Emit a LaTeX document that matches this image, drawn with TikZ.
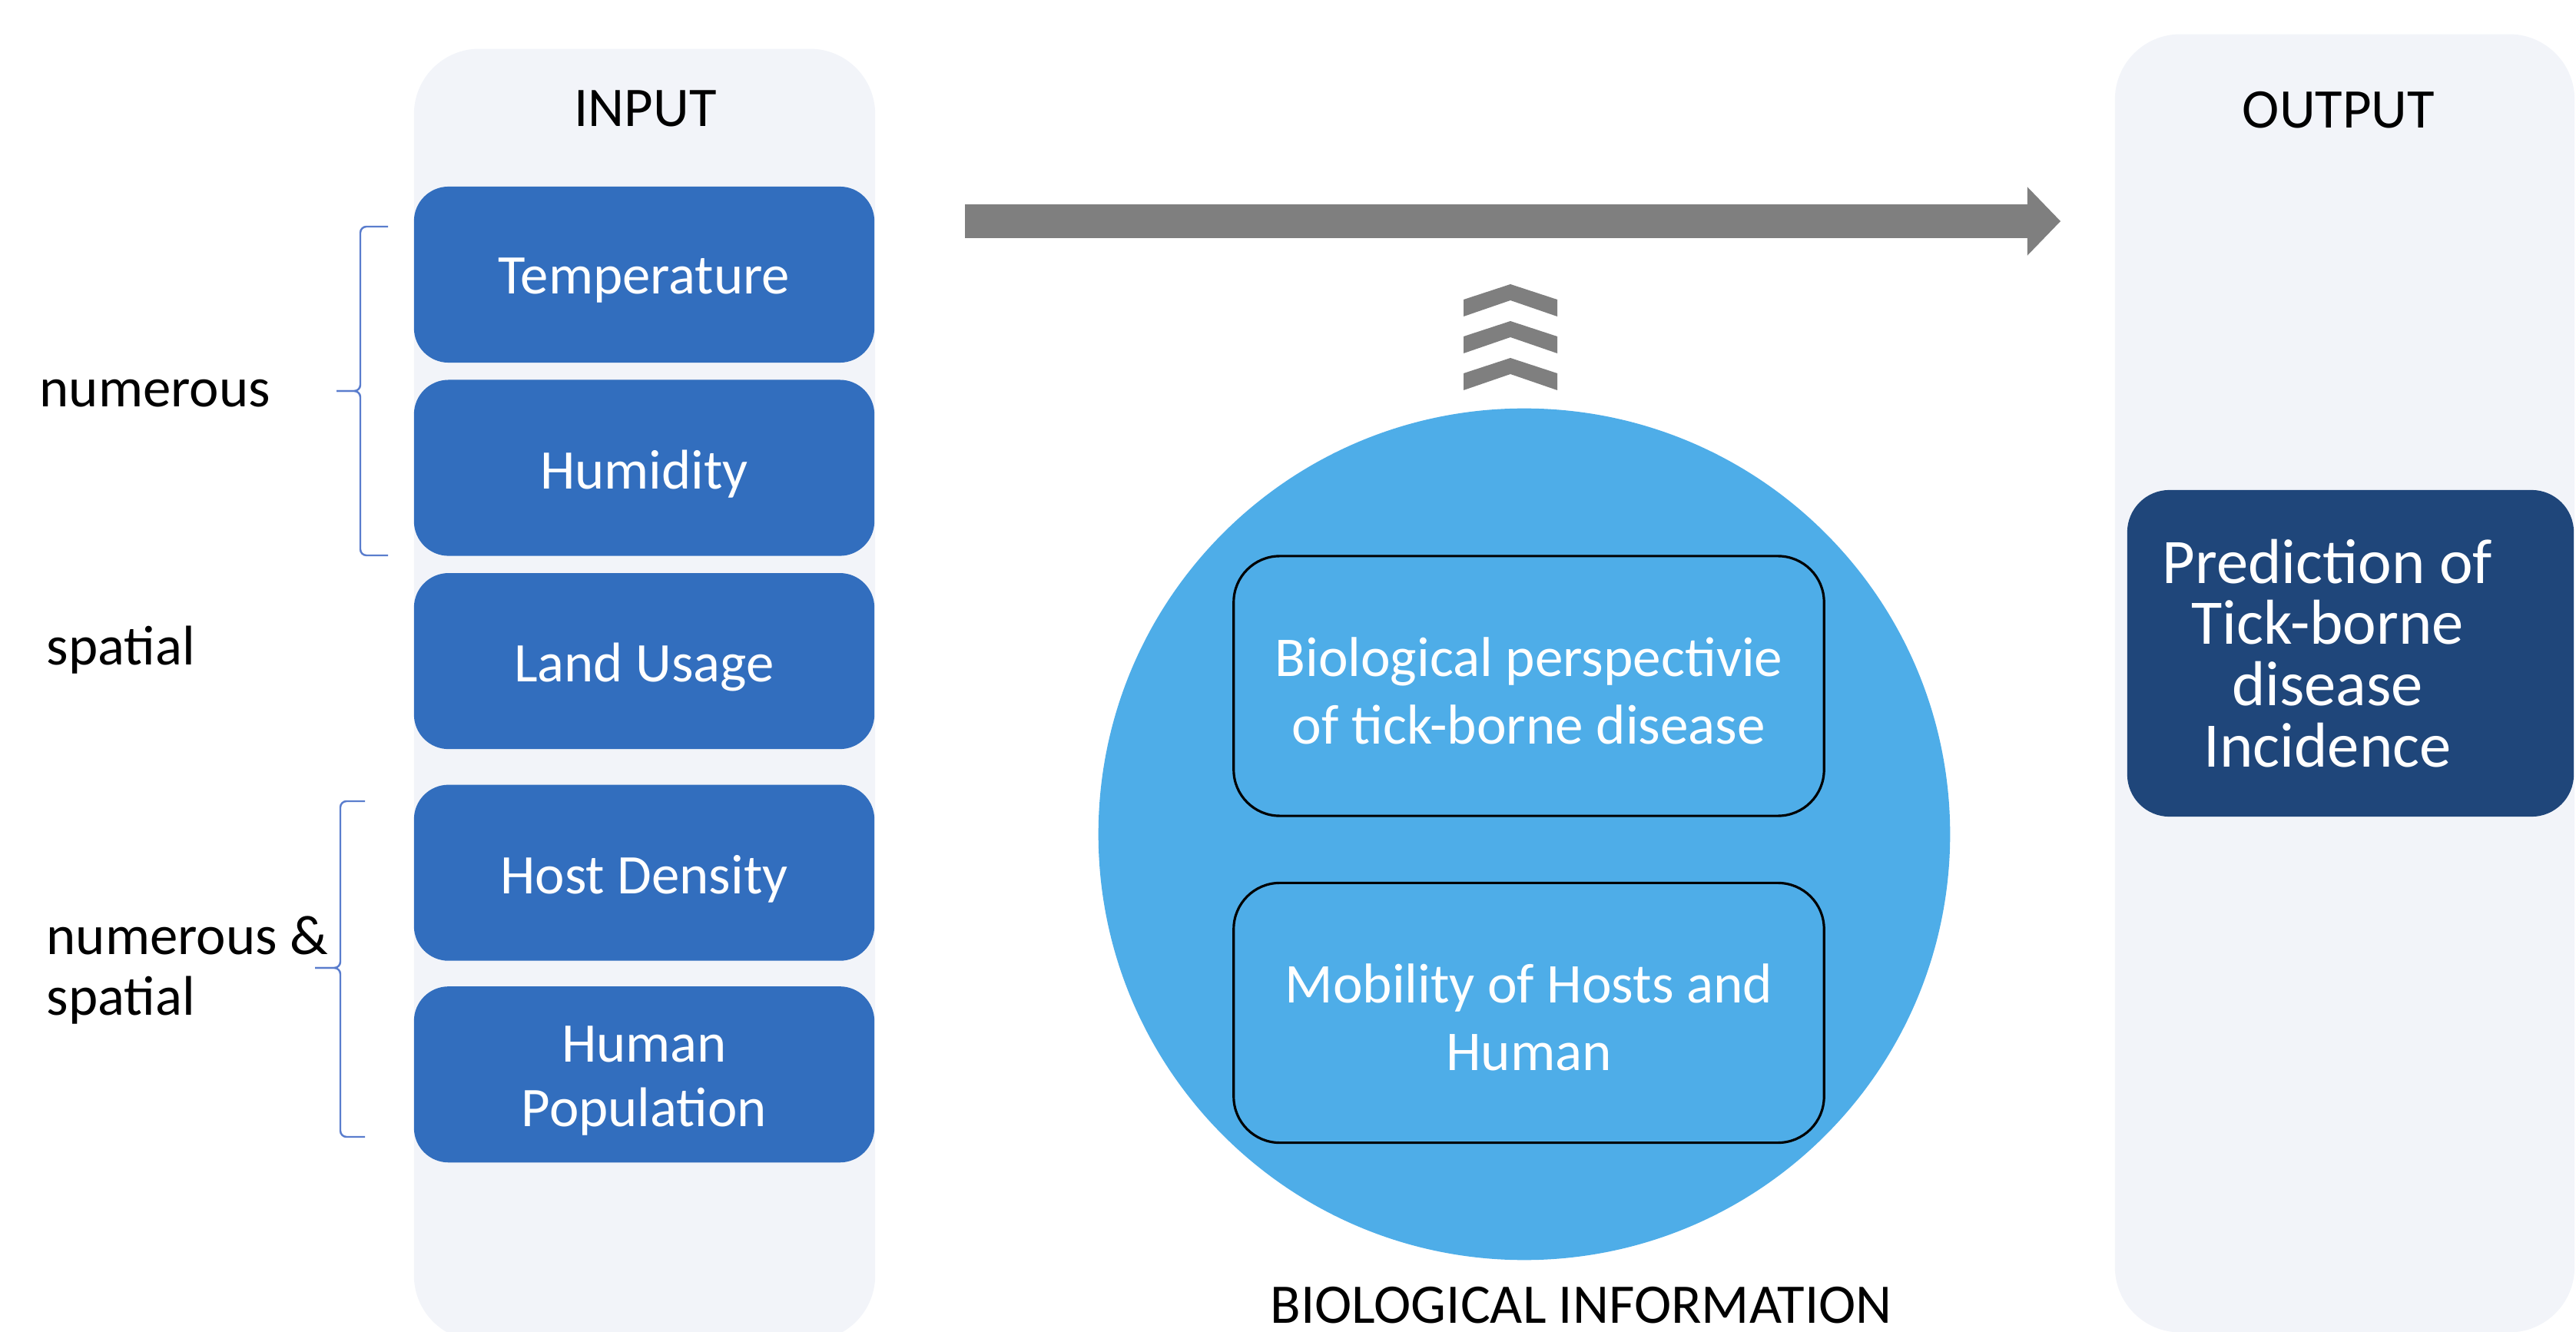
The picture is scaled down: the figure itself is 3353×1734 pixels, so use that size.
\documentclass[tikz,border=0pt]{standalone}
\usepackage{fontspec}
\setmainfont{Carlito}
\usetikzlibrary{arrows.meta,positioning,shapes.geometric}

\definecolor{panelgray}{RGB}{242,244,249}
\definecolor{inblue}{RGB}{50,110,190}
\definecolor{outnavy}{RGB}{31,70,122}
\definecolor{circblue}{RGB}{78,173,232}
\definecolor{arrowgray}{RGB}{127,127,127}
\definecolor{bracketblue}{RGB}{90,125,205}

\begin{document}
\begin{tikzpicture}[
		  x=0.01cm, y=-0.01cm, >=Latex,
		  panel/.style={fill=panelgray, rounded corners=0.85cm, minimum width=6cm, inner sep=0pt},
		  title/.style={font=\fontsize{20.7}{24}\selectfont, inner sep=0pt},
		  boxtext/.style={text=white, align=center, inner sep=0pt, font=\fontsize{20.7}{24}\selectfont},
		  inbox/.style={fill=inblue, rounded corners=0.45cm, minimum width=5.99cm, minimum height=2.29cm,
		    inner sep=0pt, label={[boxtext, yshift=-0.08cm]center:#1}},
		  biobox/.style={draw=black, line width=0.9pt, fill=circblue, rounded corners=0.6cm,
		    minimum width=7.68cm, minimum height=3.38cm, inner sep=0pt,
		    label={[boxtext, yshift=-0.06cm, font=\fontsize{20.8}{25}\selectfont]center:#1}},
		  outbox/.style={fill=outnavy, rounded corners=0.55cm, minimum width=5.81cm, minimum height=4.25cm, inner sep=0pt},
		  sidelabel/.style={anchor=west, align=left, inner sep=0pt, font=\fontsize{20.7}{22.5}\selectfont},
		  bracket/.style={draw=bracketblue, line width=0.7pt, rounded corners=0.08cm}
		]
		\useasboundingbox (0,0) rectangle (3353,1734);
		
		% input and output columns
		\node[panel, minimum height=16.81cm] (inpanel) at (839,904.5) {};
		\node[panel, minimum width=5.98cm, minimum height=16.89cm] (outpanel) at (3052,889.5) {};
		\node[title] (intitle) at (840,141) {INPUT};
		\node[title] (outtitle) at (3044,143) {OUTPUT};
		
		\node[inbox=Temperature] (temp) at (838.5,357.5) {};
		\node[inbox=Humidity, below=0.21cm of temp] (humid) {};
		\node[inbox=Land Usage, below=0.21cm of humid] (land) {};
		\node[inbox=Host Density, below=0.45cm of land] (host) {};
		\node[inbox={Human\\Population}, below=0.32cm of host] (pop) {};
		
		% kinds of data
		\node[sidelabel] (numlbl) at (51,512) {numerous};
		\node[sidelabel] (spatlbl) at (60,846) {spatial};
		\node[sidelabel] (bothlbl) at (60,1263) {numerous \&\\spatial};
		\draw[bracket] (505,295) -- (469,295) -- (469,509) -- (438,509);
		\draw[bracket] (438,509) -- (469,509) -- (469,723) -- (505,723);
		\draw[bracket] (475,1043) -- (443,1043) -- (443,1260) -- (410,1260);
		\draw[bracket] (410,1260) -- (443,1260) -- (443,1480) -- (475,1480);
		
		% biological knowledge
		\node[circle, fill=circblue, minimum size=11.08cm, inner sep=0pt] (bio) at (1984,1086) {};
		\node[biobox={Biological perspectivie\\of tick-borne disease}] (persp) at (1990,893) {};
		\node[biobox={Mobility of Hosts and\\Human}] (mobil) at (1990,1318.5) {};
		\node[title] (biotitle) at (2058,1699) {BIOLOGICAL INFORMATION};
		\foreach \dy in {0,48,96}
		  \fill[arrowgray, shift={(0,\dy)}] (1905,390) -- (1966,370) -- (2027,390) -- (2027,412) -- (1966,391) -- (1905,412) -- cycle;
		
		% prediction
		\coordinate (flowstart) at (1256,288);
		\coordinate (flowend) at (2682,288);
		\draw[arrowgray, line width=0.44cm, -{Triangle[length=0.43cm, width=0.89cm, line width=0pt]}] (flowstart) -- (flowend);
		
		\node[outbox] (pred) at (3059.5,850.5) {};
		\node[boxtext, font=\fontsize{23.5}{22.7}\selectfont] (predtext) at ([xshift=-0.3cm]pred.center) {Prediction of\\Tick-borne\\disease\\Incidence};
		\end{tikzpicture}
\end{document}
